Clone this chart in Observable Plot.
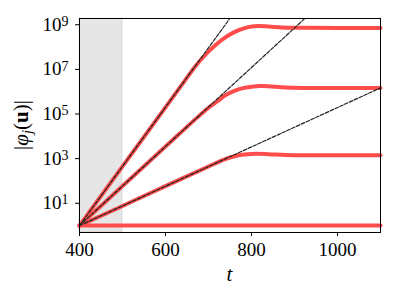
<!DOCTYPE html>
<html><head><meta charset="utf-8">
<script src="https://cdn.jsdelivr.net/npm/d3@7"></script>
<script src="https://cdn.jsdelivr.net/npm/@observablehq/plot@0.6"></script>
<style>body{margin:0;background:#fff;} svg, svg text {font-family: "Liberation Serif", "Times New Roman", serif !important;}</style>
</head><body><div id="chart"></div>
<script>
// x ticks and y tick exponents
const xTicks = [400, 600, 800, 1000];
const yTickExps = [1, 3, 5, 7, 9];
// shaded window
const spanT = [400, 500];
// red curves: t and log10 |phi|
const tA = [400, 500, 600, 650, 670, 690, 710, 735, 760, 790, 813, 840, 870, 920, 1100];
const logA = [0, 2.65, 5.3, 6.63, 7.15, 7.6, 7.98, 8.38, 8.67, 8.88, 8.94, 8.92, 8.88, 8.86, 8.85];
const tB = [400, 500, 600, 680, 700, 720, 740, 760, 780, 800, 820, 840, 870, 920, 1100];
const logB = [0, 1.77, 3.54, 4.95, 5.28, 5.56, 5.85, 6.04, 6.16, 6.22, 6.25, 6.24, 6.2, 6.17, 6.17];
const tC = [400, 500, 600, 700, 730, 750, 770, 790, 810, 840, 880, 930, 1100];
const logC = [0, 0.88, 1.77, 2.65, 2.91, 3.05, 3.15, 3.2, 3.22, 3.2, 3.16, 3.15, 3.15];
const tD = [400, 1100];
const logD = [0, 0];
// dashed exponential fits: endpoints (t, log10)
const fitT = [[400, 749.5], [400, 924], [400, 1100]];
const fitLog = [[0, 9.28], [0, 9.28], [0, 6.17]];

const curves = [[tA, logA], [tB, logB], [tC, logC], [tD, logD]].map(([t, l], i) =>
  t.map((tv, j) => ({t: tv, v: Math.pow(10, l[j]), s: i})));
const fits = fitT.map((t, i) => t.map((tv, j) => ({t: tv, v: Math.pow(10, fitLog[i][j]), s: i})));

const FONT = '"Liberation Serif", "Times New Roman", serif';
const chart = Plot.plot({
  width: 399, height: 299,
  marginLeft: 79, marginRight: 19, marginTop: 18, marginBottom: 67,
  style: {fontFamily: FONT, fontSize: "19px", background: "white", color: "black"},
  x: {domain: [400, 1100]},
  y: {type: "log", domain: [Math.pow(10, -0.31), Math.pow(10, 9.28)]},
  marks: [
    Plot.rect([{x1: spanT[0], x2: spanT[1]}], {x1: "x1", x2: "x2", fill: "#808080", fillOpacity: 0.2, stroke: "#808080", strokeOpacity: 0.2, strokeWidth: 1}),
    ...curves.map(c => Plot.line(c, {x: "t", y: "v", stroke: "#ff4d4d", strokeWidth: 4, curve: "catmull-rom"})),
    ...fits.map(f => Plot.line(f, {x: "t", y: "v", stroke: "#222", strokeWidth: 1.2, strokeDasharray: "3.7,1.6"})),
    Plot.axisX({ticks: xTicks, tickSize: 4, tickPadding: 6, label: null, tickFormat: d => String(d)}),
    Plot.axisY({ticks: yTickExps.map(e => Math.pow(10, e)), tickSize: 4, tickPadding: 7, label: null,
      tickFormat: d => "10^" + Math.round(Math.log10(d))}),
    Plot.frame({stroke: "black", strokeWidth: 1})
  ]
});
document.getElementById("chart").appendChild(chart);

const svg = d3.select(chart);
// superscript exponents
svg.selectAll('[aria-label="y-axis tick label"] text').each(function () {
  const s = this.textContent;
  if (!s.includes("^")) return;
  const [base, exp] = s.split("^");
  const el = d3.select(this);
  el.text(null);
  el.append("tspan").text(base);
  el.append("tspan").attr("dy", "-0.35em").style("font-size", "14px").text(exp);
});
// x label
svg.append("text").attr("x", 229.5).attr("y", 281).attr("text-anchor", "middle")
  .style("font-family", FONT).style("font-size", "21px").style("font-style", "italic").text("t");
// y label
const yl = svg.append("text").attr("transform", "translate(28,125) rotate(-90)").attr("text-anchor", "middle")
  .style("font-family", FONT).style("font-size", "21px");
yl.append("tspan").text("|");
yl.append("tspan").style("font-style", "italic").text("φ");
yl.append("tspan").style("font-style", "italic").style("font-size", "15px").attr("dy", "4").text("j");
yl.append("tspan").attr("dy", "-4").text("(");
yl.append("tspan").style("font-weight", "bold").text("u");
yl.append("tspan").text(")|");
</script>
</body></html>
